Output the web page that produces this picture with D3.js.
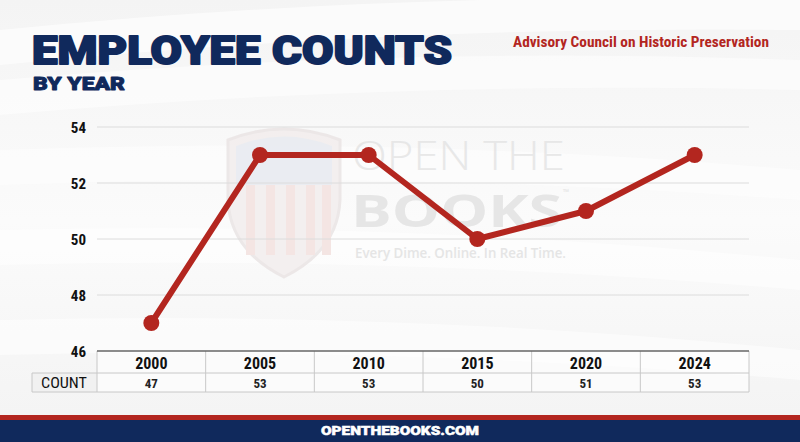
<!DOCTYPE html>
<html>
<head>
<meta charset="utf-8">
<script src="https://cdn.jsdelivr.net/npm/d3@7"></script>
<style>
  html, body { margin: 0; padding: 0; background: #fff; }
  svg { display: block; }
</style>
</head>
<body>
<div id="chart"></div>
<script>
var years = ["2000", "2005", "2010", "2015", "2020", "2024"];
var counts = [47, 53, 53, 50, 51, 53];
var y_ticks = [46, 48, 50, 52, 54];
var title_text = "EMPLOYEE COUNTS";
var subtitle_text = "BY YEAR";
var agency_text = "Advisory Council on Historic Preservation";
var row_label = "COUNT";
var footer_text = "OPENTHEBOOKS.COM";

var W = 800, H = 442;
var navy = "#10295c", red = "#b3261f";
var condensed = "'Liberation Sans Narrow', 'Roboto Condensed', 'Arial Narrow', 'Liberation Sans', sans-serif";
var heavy = "Roboto, Lato, Inter, sans-serif";

var svg = d3.select("#chart").append("svg").attr("width", W).attr("height", H);

// background with soft swooshes
var defs = svg.append("defs");
var bg = defs.append("linearGradient").attr("id", "bg").attr("x1", 0).attr("y1", 0).attr("x2", 0).attr("y2", 1);
bg.append("stop").attr("offset", "0%").attr("stop-color", "#f4f4f4");
bg.append("stop").attr("offset", "50%").attr("stop-color", "#fbfbfb");
bg.append("stop").attr("offset", "100%").attr("stop-color", "#f3f3f3");
svg.append("rect").attr("width", W).attr("height", H).attr("fill", "url(#bg)");

var swooshes = [[0, 30, 800, 0, 0.6], [0, 80, 800, 60, 0.5], [0, 150, 800, 170, 0.45], [0, 230, 800, 260, 0.5], [0, 320, 800, 350, 0.5]];
swooshes.forEach(function (s) {
    svg.append("path")
        .attr("d", "M" + s[0] + "," + s[1] + " Q400," + ((s[1] + s[3]) / 2 - 25) + " " + s[2] + "," + s[3] + " L800," + (s[3] + 30) + " Q400," + ((s[1] + s[3]) / 2 + 10) + " 0," + (s[1] + 35) + "Z")
        .attr("fill", "#ffffff").attr("opacity", s[4]);
});

// titles
svg.append("text").attr("x", 32).attr("y", 64).text(title_text)
    .attr("font-family", heavy).attr("font-weight", 900)
    .attr("font-size", 39).attr("fill", navy)
    .attr("stroke", navy).attr("stroke-width", 1.8).attr("stroke-linejoin", "round")
    .attr("textLength", 420).attr("lengthAdjust", "spacingAndGlyphs");
svg.append("text").attr("x", 33).attr("y", 89.5).text(subtitle_text)
    .attr("font-family", heavy).attr("font-weight", 900)
    .attr("font-size", 18.5).attr("fill", navy)
    .attr("stroke", navy).attr("stroke-width", 0.9).attr("stroke-linejoin", "round")
    .attr("textLength", 92).attr("lengthAdjust", "spacingAndGlyphs");
svg.append("text").attr("x", 769).attr("y", 47).text(agency_text)
    .attr("text-anchor", "end")
    .attr("font-family", condensed).attr("font-weight", 700)
    .attr("font-size", 15).attr("fill", red)
    .attr("textLength", 256).attr("lengthAdjust", "spacingAndGlyphs");

// scales
var x = d3.scaleBand().domain(years).range([97, 749]);
var y = d3.scaleLinear().domain([46, 54]).range([351, 127]);

// watermark
var wm = svg.append("g").attr("opacity", 0.9);
var shield = "M228,140 Q284,118 340,140 L340,200 Q338,250 284,277 Q230,250 228,200 Z";
wm.append("path").attr("d", shield).attr("fill", "#f3eeee").attr("stroke", "#ebe6e6").attr("stroke-width", 3);
wm.append("path").attr("d", "M236,146 Q284,127 332,146 L332,185 L236,185 Z").attr("fill", "#e9ebf1");
[246, 266, 286, 306, 322].forEach(function (sx) {
    wm.append("rect").attr("x", sx).attr("y", 185).attr("width", 9).attr("height", 70).attr("fill", "#f4e3e1");
});
wm.append("text").attr("x", 352).attr("y", 170).text("OPEN THE")
    .attr("font-family", "'Open Sans', sans-serif").attr("font-weight", 300)
    .attr("font-size", 40).attr("fill", "#e6e6e6")
    .attr("textLength", 213).attr("lengthAdjust", "spacingAndGlyphs");
wm.append("text").attr("x", 351).attr("y", 227).text("BOOKS")
    .attr("font-family", "'Open Sans', sans-serif").attr("font-weight", 700)
    .attr("font-size", 44).attr("fill", "#e4e4e4")
    .attr("textLength", 211).attr("lengthAdjust", "spacingAndGlyphs");
wm.append("text").attr("x", 563).attr("y", 195).text("™")
    .attr("font-family", "'Open Sans', sans-serif").attr("font-size", 8).attr("fill", "#e0e0e0");
wm.append("text").attr("x", 355).attr("y", 258).text("Every Dime. Online. In Real Time.")
    .attr("font-family", "'Open Sans', sans-serif").attr("font-weight", 600)
    .attr("font-size", 14).attr("fill", "#e3e3e3")
    .attr("textLength", 211).attr("lengthAdjust", "spacingAndGlyphs");

// gridlines
svg.append("g").selectAll("line").data(y_ticks.filter(function (d) { return d > 46; })).join("line")
    .attr("x1", 97).attr("x2", 749)
    .attr("y1", function (d) { return y(d); }).attr("y2", function (d) { return y(d); })
    .attr("stroke", "#dcdcdc").attr("stroke-width", 1);

// y axis labels
var yAxis = svg.append("g").attr("transform", "translate(86,0)")
    .call(d3.axisLeft(y).tickValues(y_ticks).tickSize(0).tickPadding(0));
yAxis.select(".domain").remove();
yAxis.selectAll("text")
    .attr("font-family", condensed).attr("font-weight", 700)
    .attr("font-size", 15).attr("fill", "#111").attr("dy", "0.35em");

// line + points
var line = d3.line()
    .x(function (d, i) { return x(years[i]) + x.bandwidth() / 2; })
    .y(function (d) { return y(d); });
svg.append("path").datum(counts).attr("d", line)
    .attr("fill", "none").attr("stroke", red).attr("stroke-width", 6)
    .attr("stroke-linejoin", "round");
svg.append("g").selectAll("circle").data(counts).join("circle")
    .attr("cx", function (d, i) { return x(years[i]) + x.bandwidth() / 2; })
    .attr("cy", function (d) { return y(d); })
    .attr("r", 8).attr("fill", red);

// data table
var t = svg.append("g");
var rowTop = 351, rowMid = 373, rowBot = 392;
t.append("rect").attr("x", 32).attr("y", rowMid).attr("width", 65).attr("height", rowBot - rowMid)
    .attr("fill", "#f1f1f1");
t.append("rect").attr("x", 97).attr("y", rowTop).attr("width", 652).attr("height", rowBot - rowTop)
    .attr("fill", "#ffffff").attr("opacity", 0.6);
var tl = t.append("g").attr("stroke", "#c8c8c8").attr("stroke-width", 1).attr("fill", "none");
tl.append("line").attr("x1", 32).attr("x2", 749).attr("y1", rowMid).attr("y2", rowMid);
tl.append("line").attr("x1", 32).attr("x2", 749).attr("y1", rowBot).attr("y2", rowBot);
tl.append("line").attr("x1", 32).attr("x2", 32).attr("y1", rowMid).attr("y2", rowBot);
tl.selectAll(".vl").data(years.concat(["end"])).join("line")
    .attr("x1", function (d, i) { return 97 + i * x.bandwidth(); })
    .attr("x2", function (d, i) { return 97 + i * x.bandwidth(); })
    .attr("y1", rowTop).attr("y2", rowBot);
t.append("line").attr("x1", 97).attr("x2", 749).attr("y1", rowTop).attr("y2", rowTop)
    .attr("stroke", "#666").attr("stroke-width", 1.5);

t.selectAll(".yr").data(years).join("text")
    .attr("x", function (d) { return x(d) + x.bandwidth() / 2; })
    .attr("y", 369).attr("text-anchor", "middle").text(function (d) { return d; })
    .attr("font-family", condensed).attr("font-weight", 700)
    .attr("font-size", 16).attr("fill", "#111");
t.selectAll(".ct").data(counts).join("text")
    .attr("x", function (d, i) { return x(years[i]) + x.bandwidth() / 2; })
    .attr("y", 388).attr("text-anchor", "middle").text(function (d) { return d; })
    .attr("font-family", condensed).attr("font-weight", 700)
    .attr("font-size", 13).attr("fill", "#222");
t.append("text").attr("x", 64).attr("y", 388).attr("text-anchor", "middle").text(row_label)
    .attr("font-family", condensed).attr("font-weight", 400)
    .attr("font-size", 14).attr("fill", "#111")
    .attr("textLength", 46).attr("lengthAdjust", "spacingAndGlyphs");

// footer
svg.append("rect").attr("x", 0).attr("y", 415).attr("width", W).attr("height", 5).attr("fill", red);
svg.append("rect").attr("x", 0).attr("y", 420).attr("width", W).attr("height", 22).attr("fill", navy);
svg.append("text").attr("x", 400).attr("y", 435).attr("text-anchor", "middle").text(footer_text)
    .attr("font-family", heavy).attr("font-weight", 900)
    .attr("font-size", 13).attr("fill", "#ffffff")
    .attr("stroke", "#ffffff").attr("stroke-width", 0.5)
    .attr("textLength", 158).attr("lengthAdjust", "spacingAndGlyphs");
</script>
</body>
</html>
